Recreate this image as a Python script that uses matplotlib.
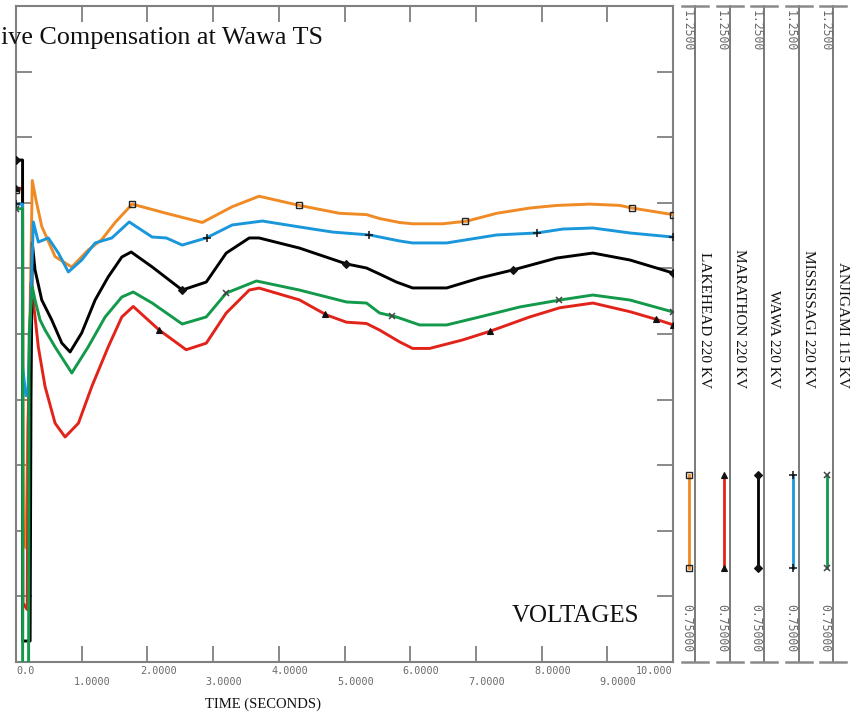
import numpy as np
import matplotlib
matplotlib.use("Agg")
import matplotlib.pyplot as plt
from matplotlib.transforms import blended_transform_factory, offset_copy

W, H, DPI = 863, 717, 100

# ---------------- data ----------------
title_text = "ive Compensation at Wawa TS"
series_names = ["LAKEHEAD 220 KV", "MARATHON 220 KV", "WAWA 220 KV",
                "MISSISSAGI 220 KV", "ANJIGAMI 115 KV"]
y_min, y_max = 0.75, 1.25
y_ticks = [0.80, 0.85, 0.90, 0.95, 1.00, 1.05, 1.10, 1.15, 1.20]
x_ticks = [0, 1, 2, 3, 4, 5, 6, 7, 8, 9, 10]
x_tick_labels = ["0.0", "1.0000", "2.0000", "3.0000", "4.0000", "5.0000",
                 "6.0000", "7.0000", "8.0000", "9.0000", "10.000"]

lakehead_t = [0.00, 0.10, 0.11, 0.15, 0.248, 0.305, 0.392, 0.595, 0.849, 1.098,
              1.306, 1.509, 1.768, 2.287, 2.835, 3.29, 3.70, 4.314, 4.924, 5.335,
              5.534, 5.838, 6.037, 6.494, 6.86, 7.317, 7.82, 8.23, 8.735, 9.192,
              9.375, 10.0]
lakehead_v = [1.110, 1.110, 0.850, 0.837, 1.117, 1.102, 1.082, 1.059, 1.051, 1.064,
              1.072, 1.085, 1.099, 1.092, 1.085, 1.097, 1.105, 1.098, 1.092, 1.091,
              1.088, 1.085, 1.084, 1.084, 1.086, 1.092, 1.096, 1.098, 1.099, 1.098,
              1.096, 1.091]

marathon_t = [0.00, 0.10, 0.105, 0.17, 0.185, 0.229, 0.29, 0.34, 0.442, 0.595,
              0.747, 0.95, 1.154, 1.402, 1.611, 1.784, 2.18, 2.59, 2.896, 3.20,
              3.55, 3.70, 4.314, 4.726, 5.03, 5.335, 5.534, 5.838, 6.037, 6.296,
              6.80, 7.21, 7.82, 8.277, 8.78, 9.345, 9.756, 10.0]
marathon_v = [1.111, 1.111, 0.795, 0.790, 0.930, 1.039, 1.013, 0.990, 0.960, 0.932,
              0.9215, 0.932, 0.960, 0.990, 1.013, 1.021, 1.003, 0.988, 0.993, 1.016,
              1.0335, 1.035, 1.026, 1.0145, 1.009, 1.008, 1.003, 0.994, 0.989, 0.989,
              0.9955, 1.002, 1.013, 1.020, 1.0236, 1.017, 1.011, 1.007]

wawa_t = [0.00, 0.10, 0.101, 0.215, 0.228, 0.248, 0.29, 0.392, 0.544, 0.697,
          0.823, 1.0, 1.204, 1.402, 1.611, 1.753, 2.073, 2.53, 2.896, 3.20,
          3.55, 3.70, 4.314, 5.03, 5.335, 5.534, 5.79, 6.037, 6.555, 7.058,
          7.561, 8.23, 8.78, 9.345, 10.0]
wawa_v = [1.1326, 1.1326, 0.766, 0.766, 0.95, 1.0694, 1.0488, 1.0259, 1.0107, 0.9931,
          0.9863, 1.0008, 1.0259, 1.0434, 1.0587, 1.0625, 1.0511, 1.0335, 1.0396, 1.0617,
          1.0732, 1.0732, 1.0655, 1.0534, 1.0503, 1.0457, 1.0396, 1.0351, 1.0351, 1.0427,
          1.0488, 1.0579, 1.0617, 1.0564, 1.0465]

mississagi_t = [0.00, 0.10, 0.101, 0.15, 0.18, 0.264, 0.34, 0.492, 0.645, 0.797,
                1.0, 1.204, 1.459, 1.723, 2.073, 2.287, 2.53, 2.896, 3.29, 3.75,
                4.314, 4.817, 5.38, 5.838, 6.037, 6.555, 7.317, 7.927, 8.323, 8.78,
                9.345, 10.0]
mississagi_v = [1.099, 1.099, 0.975, 0.953, 0.953, 1.0854, 1.0701, 1.0732, 1.0617, 1.0473,
                1.0564, 1.0694, 1.0732, 1.0854, 1.0739, 1.0732, 1.0678, 1.0732, 1.0831, 1.0861,
                1.0816, 1.0777, 1.0755, 1.0709, 1.0694, 1.0694, 1.0755, 1.0770, 1.0800, 1.0808,
                1.0770, 1.0739]

anjigami_t = [0.00, 0.10, 0.101, 0.19, 0.20, 0.248, 0.29, 0.366, 0.442, 0.595,
              0.849, 1.098, 1.357, 1.611, 1.784, 2.073, 2.53, 2.896, 3.20, 3.66,
              4.314, 5.03, 5.335, 5.534, 5.79, 6.143, 6.555, 7.058, 7.668, 8.277,
              8.78, 9.345, 10.0]
anjigami_v = [1.0955, 1.0955, 0.70, 0.70, 1.00, 1.0358, 1.0259, 1.0107, 1.0031, 0.9901,
              0.9703, 0.9901, 1.0130, 1.0282, 1.0320, 1.0236, 1.0076, 1.0130, 1.0312, 1.0404,
              1.0335, 1.0244, 1.0236, 1.0160, 1.0130, 1.0069, 1.0069, 1.0130, 1.0206, 1.0259,
              1.0297, 1.0259, 1.0168]

# marker times along each curve
lakehead_mk = [0.0, 1.77, 4.31, 6.84, 9.38, 10.0]
marathon_mk = [0.0, 2.18, 4.70, 7.21, 9.74, 10.0]
wawa_mk = [0.0, 2.53, 5.03, 7.56, 10.0]
mississagi_mk = [0.0, 2.90, 5.38, 7.93, 10.0]
anjigami_mk = [0.0, 3.20, 5.73, 8.26, 10.0]

# ---------------- styles ----------------
colors = ["#F08A24", "#E2231A", "#000000", "#1A97DB", "#12994A"]
markers = [dict(marker="s", ms=5, mfc="none", mec="#222222", mew=1.0),
           dict(marker="^", ms=5, mfc="#111111", mec="#111111", mew=0.8),
           dict(marker="D", ms=3.8, mfc="#111111", mec="#111111", mew=0.8),
           dict(marker="+", ms=6, mfc="none", mec="#111111", mew=1.1),
           dict(marker="x", ms=4.5, mfc="none", mec="#444444", mew=1.1)]
series_t = [lakehead_t, marathon_t, wawa_t, mississagi_t, anjigami_t]
series_v = [lakehead_v, marathon_v, wawa_v, mississagi_v, anjigami_v]
series_mk = [lakehead_mk, marathon_mk, wawa_mk, mississagi_mk, anjigami_mk]

frame_col = "#808080"
serif = ["Liberation Serif", "DejaVu Serif"]
mono = ["DejaVu Sans Mono"]

fig = plt.figure(figsize=(W / DPI, H / DPI), dpi=DPI)
fig.patch.set_facecolor("white")

# main axes: x 16..673 px, y 6..662 px
ax = fig.add_axes([16 / W, (H - 662) / H, 657 / W, 656 / H])
ax.set_xlim(0, 10)
ax.set_ylim(y_min, y_max)
for s in ax.spines.values():
    s.set_color(frame_col)
    s.set_linewidth(1.5)
ax.set_xticks(x_ticks[1:-1])
ax.set_yticks(y_ticks)
ax.tick_params(direction="in", length=11.5, width=1.3, color=frame_col,
               top=True, right=True, labelbottom=False, labelleft=False)

for t, v, mk, c, m in zip(series_t, series_v, series_mk, colors, markers):
    ax.plot(t, v, color=c, lw=2.1, solid_joinstyle="round", zorder=3)
    ax.plot(mk, np.interp(mk, t, v), linestyle="none", zorder=4, **m)

# x tick labels in two staggered rows
trans = blended_transform_factory(ax.transData, ax.transAxes)
for i, (xt, lab) in enumerate(zip(x_ticks, x_tick_labels)):
    if i == 0:
        ha, dx = "left", 0
    elif i == len(x_ticks) - 1:
        ha, dx = "right", 0
    else:
        ha, dx = "left", -7.5
    dy = -9 if i % 2 == 0 else -20
    tr = offset_copy(trans, fig=fig, x=dx, y=dy, units="dots")
    ax.text(xt, 0, lab, transform=tr, ha=ha, va="center", fontsize=7.3,
            family=mono, color="#6a6a6a", clip_on=False)

# overlay in pixel coordinates for texts / legend panel
ov = fig.add_axes([0, 0, 1, 1], facecolor="none")
ov.set_xlim(0, W)
ov.set_ylim(H, 0)
ov.axis("off")

ov.text(1, 38, title_text, ha="left", va="center",
        fontsize=18.8, family=serif, color="#111111")
ov.text(639, 616, "VOLTAGES", ha="right", va="center", fontsize=18,
        family=serif, color="#111111")
ov.text(263, 704, "TIME (SECONDS)", ha="center", va="center", fontsize=10.5,
        family=serif, color="#111111")

# legend strips
line_x = [695, 729.5, 764, 798.5, 833]
for k, name in enumerate(series_names):
    lx = line_x[k]
    ov.plot([lx, lx], [6, 662], color="#707070", lw=1.3)
    ov.plot([lx - 13, lx + 13], [6, 6], color="#8a8a8a", lw=1.8)
    ov.plot([lx - 13, lx + 13], [662, 662], color="#8a8a8a", lw=1.8)
    ov.text(lx - 8, 10, f"{y_max:.4f}", rotation=270, ha="center", va="top",
            fontsize=8.3, family=mono, color="#6a6a6a")
    ov.text(lx - 8, 652, f"{y_min:.5f}", rotation=270, ha="center", va="bottom",
            fontsize=8.3, family=mono, color="#6a6a6a")
    ov.text(lx + 9.5, 388, name, rotation=270, rotation_mode="anchor",
            ha="right", va="center", fontsize=11, family=serif, color="#111111")
    sx = lx - 6
    ov.plot([sx, sx], [475, 568], color=colors[k], lw=2.0)
    ov.plot([sx, sx], [475, 568], linestyle="none", **markers[k])

fig.savefig("out.png", dpi=DPI, facecolor="white")
